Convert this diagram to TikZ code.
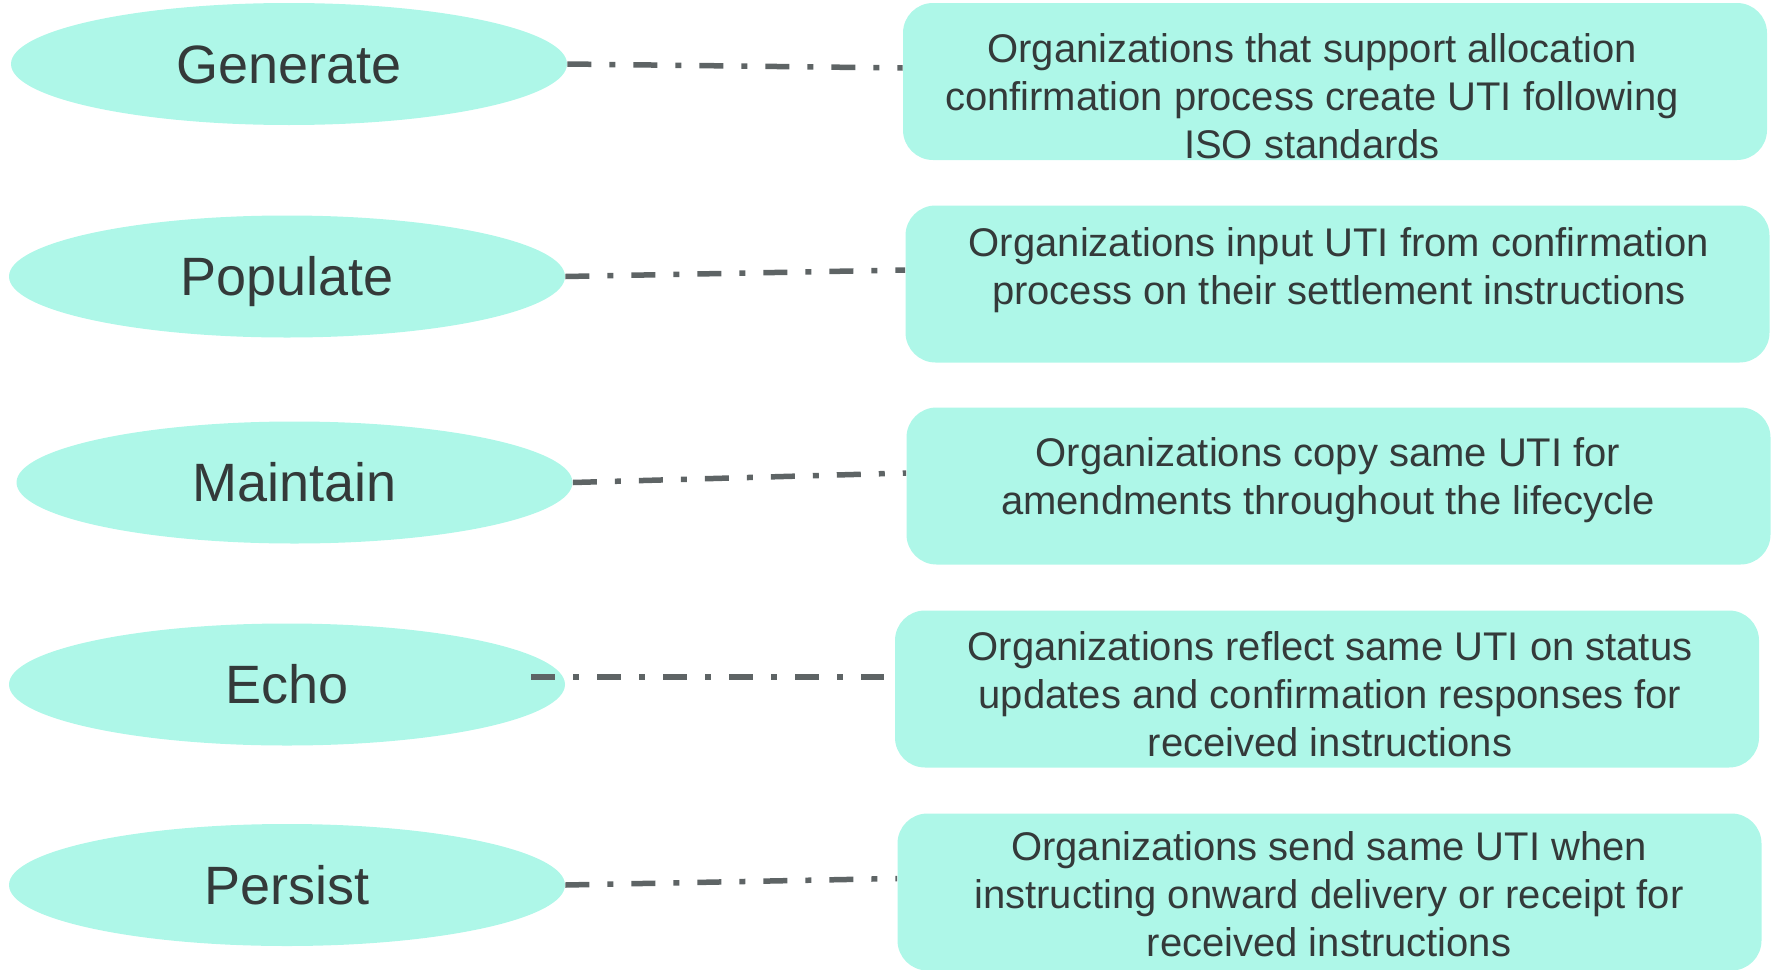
\documentclass[tikz,border=0pt]{standalone}
\usepackage{fontspec}
\setmainfont{Liberation Sans}
\usetikzlibrary{shapes.geometric}
\definecolor{aqua}{RGB}{174,247,232}
\definecolor{ink}{RGB}{52,58,58}
\definecolor{linkgray}{RGB}{94,100,101}
\begin{document}
\begin{tikzpicture}[x=0.5pt,y=-0.5pt,
	stage/.style={ellipse,fill=aqua,minimum width=278pt,minimum height=61pt,inner sep=0pt,text=ink,text height=25.3pt,text depth=6pt,font=\fontsize{27}{32}\selectfont},
	info/.style={rounded corners=15pt,fill=aqua,minimum width=432pt,minimum height=78.5pt,inner sep=0pt},
	infotext/.style={text=ink,align=center,inner sep=0pt,font=\fontsize{20}{24}\selectfont},
	dashlink/.style={draw=linkgray,line width=2.75pt,dash pattern=on 12pt off 9pt on 3pt off 9pt}]
		\useasboundingbox (0,0) rectangle (1777,969);
		% stages
		\node[stage] (e1) at (289,64) {Generate};
		\node[stage] (e2) at (287,276.5) {Populate};
		\node[stage] (e3) at (294.5,482.5) {Maintain};
		\node[stage] (e4) at (287,684.5) {Echo};
		\node[stage] (e5) at (287,885) {Persist};
		% descriptions
		\node[info] (d1) at (1335,81.5) {};
		\node[info] (d2) at (1337.5,284) {};
		\node[info] (d3) at (1338.5,486) {};
		\node[info] (d4) at (1327,689) {};
		\node[info] (d5) at (1329.5,892) {};
		\node[infotext] (t1) at (1312,96) {Organizations that support allocation\\confirmation process create UTI following\\ISO standards};
		\node[infotext] (t2) at (1339,270) {Organizations input UTI from confirmation\\process on their settlement instructions};
		\node[infotext] (t3) at (1328,480.5) {Organizations copy same UTI for\\amendments throughout the lifecycle};
		\node[infotext] (t4) at (1330,694) {Organizations reflect same UTI on status\\updates and confirmation responses for\\received instructions};
		\node[infotext] (t5) at (1329,894.5) {Organizations send same UTI when\\instructing onward delivery or receipt for\\received instructions};
		% links
		\draw[dashlink] (e1.east) -- ([yshift=6.75pt]d1.west);
		\draw[dashlink] (e2.east) -- ([yshift=7pt]d2.west);
		\draw[dashlink] (e3.east) -- ([yshift=6.5pt]d3.west);
		\draw[dashlink] ([shift={(-17pt,3.75pt)}]e4.east) -- ([shift={(-5.5pt,6pt)}]d4.west);
		\draw[dashlink] (e5.east) -- ([yshift=6.75pt]d5.west);
\end{tikzpicture}
\end{document}
